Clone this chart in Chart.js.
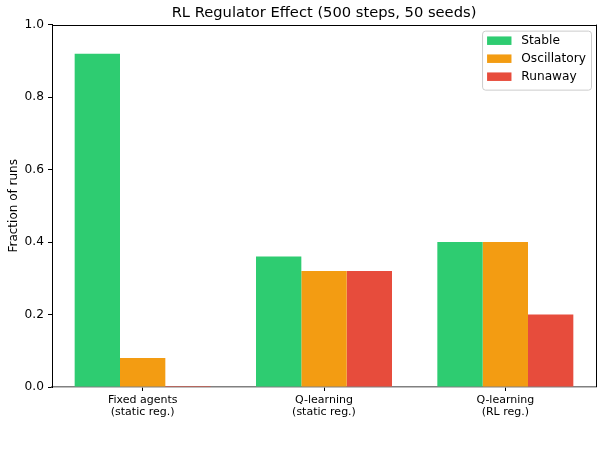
<!DOCTYPE html>
<html>
<head>
<meta charset="utf-8">
<script src="https://cdn.jsdelivr.net/npm/chart.js@4.4.1/dist/chart.umd.min.js"></script>
<style>
html,body{margin:0;padding:0;background:#fff;}
#wrap{width:604px;height:450px;}
</style>
</head>
<body>
<div id="wrap"><canvas id="c" width="604" height="450"></canvas></div>
<script>
const categories = [["Fixed agents","(static reg.)"],["Q-learning","(static reg.)"],["Q-learning","(RL reg.)"]];
const seriesNames = ["Stable","Oscillatory","Runaway"];
const stableValues = [0.92, 0.36, 0.40];
const oscillatoryValues = [0.08, 0.32, 0.40];
const runawayValues = [0.0, 0.32, 0.20];
const yTicks = [0.0, 0.2, 0.4, 0.6, 0.8, 1.0];
const colors = ["#2ecc71","#f39c12","#e74c3c"];

const FONT = "'DejaVu Sans', sans-serif";
Chart.defaults.font.family = FONT;
Chart.defaults.color = '#000';

const frame = {
  id: 'frame',
  afterDatasetsDraw(chart){
    const ctx = chart.ctx, a = chart.chartArea;
    ctx.save();
    ctx.strokeStyle = '#000';
    ctx.lineWidth = 1;
    ctx.beginPath();
    ctx.moveTo(a.left, Math.round(a.top)+0.5);
    ctx.lineTo(a.right, Math.round(a.top)+0.5);
    ctx.moveTo(Math.round(a.right)+0.5, a.top);
    ctx.lineTo(Math.round(a.right)+0.5, a.bottom);
    ctx.stroke();
    ctx.restore();
  }
};

const legendBox = {
  id: 'legendBox',
  afterDatasetsDraw(chart){
    const ctx = chart.ctx, a = chart.chartArea;
    const fs = 12.2;
    ctx.save();
    ctx.font = fs + "px " + FONT;
    const ds = chart.data.datasets;
    let maxW = 0;
    ds.forEach(d => { maxW = Math.max(maxW, ctx.measureText(d.label).width); });
    const pad = 5, handle = 24.4, gap = 9.8, rowH = 18;
    const w = pad + handle + gap + maxW + pad;
    const h = 59;
    const x = a.right - 5 - w, y = a.top + 6;
    ctx.beginPath();
    if (ctx.roundRect) ctx.roundRect(x+0.5, y+0.5, w, h, 3); else ctx.rect(x+0.5, y+0.5, w, h);
    ctx.fillStyle = 'rgba(255,255,255,0.8)';
    ctx.fill();
    ctx.strokeStyle = '#cccccc';
    ctx.lineWidth = 1;
    ctx.stroke();
    ctx.textBaseline = 'middle';
    ds.forEach((d, i) => {
      const cy = y + 10 + i*rowH;
      ctx.fillStyle = d.backgroundColor;
      ctx.fillRect(x + pad, cy - 4.2, handle, 8.5);
      ctx.fillStyle = '#000';
      ctx.fillText(d.label, x + pad + handle + gap, cy + 0.5);
    });
    ctx.restore();
  }
};

new Chart(document.getElementById('c'), {
  type: 'bar',
  data: {
    labels: categories,
    datasets: [
      {label: seriesNames[0], data: stableValues, backgroundColor: colors[0]},
      {label: seriesNames[1], data: oscillatoryValues, backgroundColor: colors[1]},
      {label: seriesNames[2], data: runawayValues, backgroundColor: colors[2], minBarLength: 1}
    ]
  },
  options: {
    responsive: false,
    devicePixelRatio: 1,
    animation: false,
    layout: {padding: {left: 0, right: 8, top: 0, bottom: 0}},
    datasets: {bar: {barPercentage: 1.0, categoryPercentage: 0.75, borderWidth: 0}},
    plugins: {
      legend: {display: false},
      tooltip: {enabled: false},
      title: {
        display: true,
        fullSize: false,
        text: 'RL Regulator Effect (500 steps, 50 seeds)',
        font: {size: 14.7, weight: 'normal', family: FONT},
        color: '#000',
        padding: {top: 4, bottom: 3}
      }
    },
    scales: {
      x: {
        afterFit(s){ s.height = 63; },
        grid: {display: true, offset: false, drawOnChartArea: false, drawTicks: true, tickLength: 4, color: '#000'},
        border: {display: true, color: '#808080', width: 1.5},
        ticks: {font: {size: 11, family: FONT, lineHeight: 1.1}, color: '#000', padding: 3, maxRotation: 0, autoSkip: false}
      },
      y: {
        min: 0, max: 1,
        afterFit(s){ s.width = 52; },
        afterBuildTicks(s){ s.ticks = yTicks.map(v => ({value: v})); },
        grid: {display: true, drawOnChartArea: false, drawTicks: true, tickLength: 4, color: '#000'},
        border: {display: true, color: '#000', width: 1},
        ticks: {font: {size: 12.2, family: FONT}, color: '#000', padding: 4, callback: v => Number(v).toFixed(1)},
        title: {display: true, text: 'Fraction of runs', font: {size: 12, family: FONT}, color: '#000', padding: {top: 7, bottom: 0}}
      }
    }
  },
  plugins: [frame, legendBox]
});
</script>
</body>
</html>
